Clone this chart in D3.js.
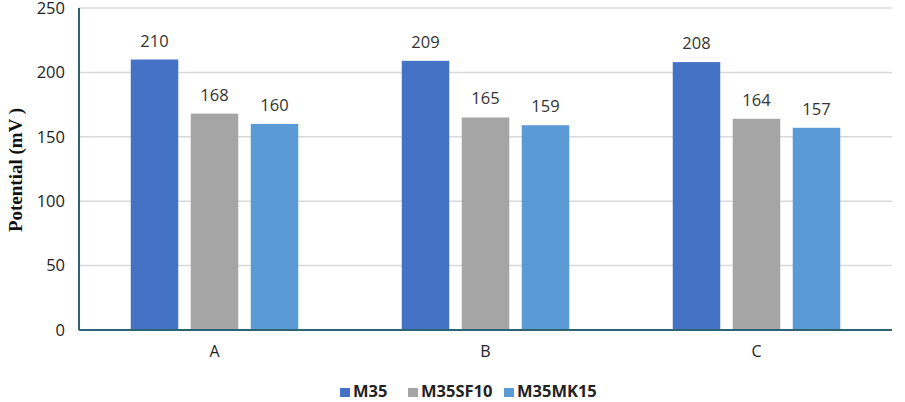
<!DOCTYPE html>
<html><head><meta charset="utf-8">
<script src="https://cdn.jsdelivr.net/npm/d3@7"></script>
<style>body{margin:0;background:#fff;}svg{display:block;}</style>
</head><body>
<script>
const categories = ["A", "B", "C"];
const seriesNames = ["M35", "M35SF10", "M35MK15"];
const m35 = [210, 209, 208];
const m35sf10 = [168, 165, 164];
const m35mk15 = [160, 159, 157];
const yTicks = [0, 50, 100, 150, 200, 250];
const colors = ["#4472C4", "#A5A5A5", "#5B9BD5"];

const seriesValues = [m35, m35sf10, m35mk15];
const W = 905, H = 402;
const mLeft = 79, mRight = 892, mTop = 8, mBottom = 330;
const font = "'Open Sans', sans-serif";

const svg = d3.select("body").append("svg").attr("width", W).attr("height", H);

const x = d3.scaleBand().domain(categories).range([mLeft, mRight]).paddingInner(0).paddingOuter(0);
const y = d3.scaleLinear().domain([0, 250]).range([mBottom, mTop]);
const xs = d3.scaleBand().domain(seriesNames).range([0, x.bandwidth()]).paddingInner(0.208).paddingOuter(0.8625);

// gridlines
svg.append("g").selectAll("line").data(yTicks.filter(d => d > 0)).join("line")
  .attr("x1", mLeft).attr("x2", mRight)
  .attr("y1", d => y(d)).attr("y2", d => y(d))
  .attr("stroke", "#d9d9d9").attr("stroke-width", 1.5);

// y tick labels
const yAxis = d3.axisLeft(y).tickValues(yTicks).tickSize(0).tickPadding(14);
const ga = svg.append("g").attr("transform", `translate(${mLeft},0)`).call(yAxis);
ga.select(".domain").remove();
ga.selectAll("text").attr("font-family", font).attr("font-size", 16.5).attr("fill", "#222");

// bars
categories.forEach((c, ci) => {
  const g = svg.append("g").attr("transform", `translate(${x(c)},0)`);
  seriesNames.forEach((s, si) => {
    const v = seriesValues[si][ci];
    g.append("rect").attr("x", xs(s)).attr("width", xs.bandwidth())
      .attr("y", y(v)).attr("height", mBottom - y(v)).attr("fill", colors[si]);
    g.append("text").attr("x", xs(s) + xs.bandwidth() / 2).attr("y", y(v) - 13)
      .attr("text-anchor", "middle").attr("font-family", font)
      .attr("font-size", 16.5).attr("fill", "#333").text(v);
  });
});

// axes lines
svg.append("line").attr("x1", mLeft).attr("x2", mLeft).attr("y1", mTop).attr("y2", mBottom)
  .attr("stroke", "#2a6475").attr("stroke-width", 2);
svg.append("line").attr("x1", mLeft).attr("x2", mRight).attr("y1", mBottom).attr("y2", mBottom)
  .attr("stroke", "#2a6475").attr("stroke-width", 2);

// x labels
const xAxis = d3.axisBottom(x).tickSize(0).tickPadding(16);
const gx = svg.append("g").attr("transform", `translate(0,${mBottom})`).call(xAxis);
gx.select(".domain").remove();
gx.selectAll("text").attr("font-family", font).attr("font-size", 16).attr("fill", "#222");

// y title
svg.append("text").attr("transform", "translate(22,170) rotate(-90)")
  .attr("text-anchor", "middle").attr("font-family", "'Liberation Serif', serif")
  .attr("font-weight", "bold").attr("font-size", 19).attr("fill", "#111")
  .text("Potential (mV )");

// legend
const legendX = [340, 408, 504];
const lg = svg.append("g");
seriesNames.forEach((s, i) => {
  lg.append("rect").attr("x", legendX[i]).attr("y", 388).attr("width", 10).attr("height", 9).attr("fill", colors[i]);
  lg.append("text").attr("x", legendX[i] + 13).attr("y", 397)
    .attr("font-family", font).attr("font-weight", "bold")
    .attr("font-size", 16.5).attr("fill", "#222").text(s);
});
</script>
</body></html>
